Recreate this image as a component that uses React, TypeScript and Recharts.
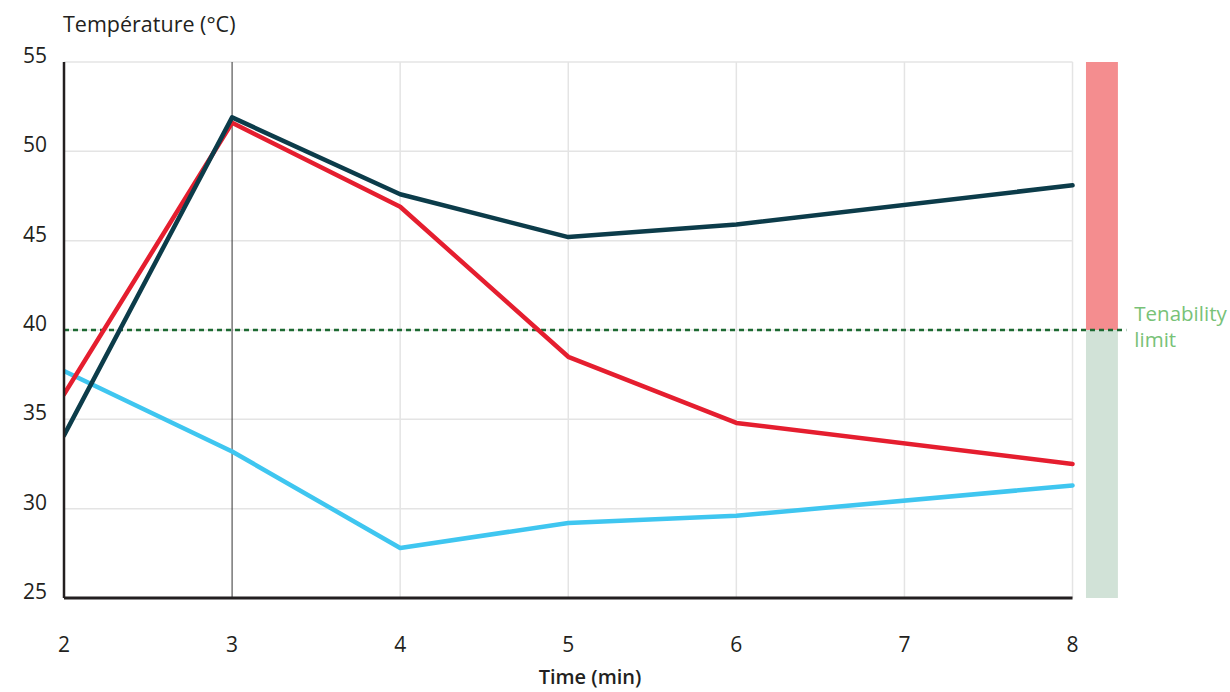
import React from "react";
import {
  LineChart,
  Line,
  XAxis,
  YAxis,
  ReferenceLine,
  ReferenceArea,
} from "recharts";

// time in minutes
const times = [2, 3, 4, 5, 6, 8];
const darkSeries = [34.1, 51.9, 47.6, 45.2, 45.9, 48.1];
const redSeries = [36.4, 51.6, 46.9, 38.5, 34.8, 32.5];
const blueSeries = [37.7, 33.2, 27.8, 29.2, 29.6, 31.3];

const xTicks = [2, 3, 4, 5, 6, 7, 8];
const yTicks = [25, 30, 35, 40, 45, 50, 55];
const gridLevels = [30, 35, 40, 45, 50, 55];
const gridTimes = [4, 5, 6, 7, 8];
const tenabilityLimit = 40;

const data = times.map((t, i) => ({
  time: t,
  dark: darkSeries[i],
  red: redSeries[i],
  blue: blueSeries[i],
}));

const FONT = "'Open Sans', 'Noto Sans', sans-serif";
const TEXT = "#231f20";
const GRID = "#e4e4e4";

const YTick = (props: any) => {
  const { x, y, payload } = props;
  return (
    <text x={x} y={y - 6.5} dy="0.355em" textAnchor="end" fontSize={21} fill={TEXT} fontFamily={FONT}>
      {payload.value}
    </text>
  );
};

const LimitLabel = (props: any) => {
  const vb = props.viewBox || {};
  const x = (vb.x || 0) + (vb.width || 0) + 8;
  const y = vb.y || 0;
  return (
    <text x={x} y={y - 9} fontSize={20.5} fill="#78c277" fontFamily={FONT}>
      <tspan x={x}>Tenability</tspan>
      <tspan x={x} dy={26}>limit</tspan>
    </text>
  );
};

const lineStyle = {
  strokeWidth: 4.5,
  strokeLinecap: "round" as const,
  strokeLinejoin: "round" as const,
};

export default function App() {
  return (
    <div style={{ position: "absolute", left: 0, top: 0, width: 1230, height: 692, background: "#fff" }}>
      <LineChart
        width={1230}
        height={692}
        data={data}
        margin={{ top: 62, right: 102, left: 0, bottom: 0 }}
        style={{ fontFamily: FONT }}
      >
        <XAxis
          dataKey="time"
          type="number"
          domain={[2, 8.33]}
          ticks={xTicks}
          height={94}
          axisLine={false}
          tickLine={false}
          tickSize={0}
          tickMargin={39}
          tick={{ fontSize: 21, fill: TEXT, fontFamily: FONT }}
          allowDataOverflow
        />
        <YAxis
          type="number"
          domain={[25, 55]}
          ticks={yTicks}
          width={64}
          axisLine={{ stroke: TEXT, strokeWidth: 2.5 }}
          tickLine={false}
          tickSize={0}
          tickMargin={17}
          tick={<YTick />}
        />
        {gridTimes.map((t) => (
          <ReferenceLine
            key={"v" + t}
            segment={[{ x: t, y: 25 }, { x: t, y: 55 }]}
            stroke={GRID}
            strokeWidth={1.5}
          />
        ))}
        {gridLevels.map((v) => (
          <ReferenceLine
            key={"h" + v}
            segment={[{ x: 2, y: v }, { x: 8, y: v }]}
            stroke={GRID}
            strokeWidth={1.5}
          />
        ))}
        <ReferenceArea x1={8.08} x2={8.27} y1={tenabilityLimit} y2={55} fill="#f48d8f" fillOpacity={1} stroke="none" />
        <ReferenceArea x1={8.08} x2={8.27} y1={25} y2={tenabilityLimit} fill="#d1e2d7" fillOpacity={1} stroke="none" />
        <ReferenceLine x={3} stroke="#333" strokeWidth={1} />
        <ReferenceLine
          segment={[{ x: 2, y: 25 }, { x: 8, y: 25 }]}
          stroke={TEXT}
          strokeWidth={3}
        />
        <ReferenceLine
          segment={[{ x: 2, y: tenabilityLimit }, { x: 8.32, y: tenabilityLimit }]}
          stroke="#1d6a32"
          strokeWidth={2.5}
          strokeDasharray="5 4"
          label={<LimitLabel />}
        />
        <Line type="linear" dataKey="blue" stroke="#3fc6f0" {...lineStyle} dot={false} isAnimationActive={false} />
        <Line type="linear" dataKey="red" stroke="#e51e2f" {...lineStyle} dot={false} isAnimationActive={false} />
        <Line type="linear" dataKey="dark" stroke="#0c3c4a" {...lineStyle} dot={false} isAnimationActive={false} />
      </LineChart>
      <svg
        width={1230}
        height={692}
        style={{ position: "absolute", left: 0, top: 0, pointerEvents: "none" }}
      >
        <text x={63} y={32} fontSize={21.5} fill={TEXT} fontFamily={FONT}>
          Température (°C)
        </text>
        <text x={590} y={684} fontSize={20} fontWeight={600} fill={TEXT} fontFamily={FONT} textAnchor="middle">
          Time (min)
        </text>
      </svg>
    </div>
  );
}
